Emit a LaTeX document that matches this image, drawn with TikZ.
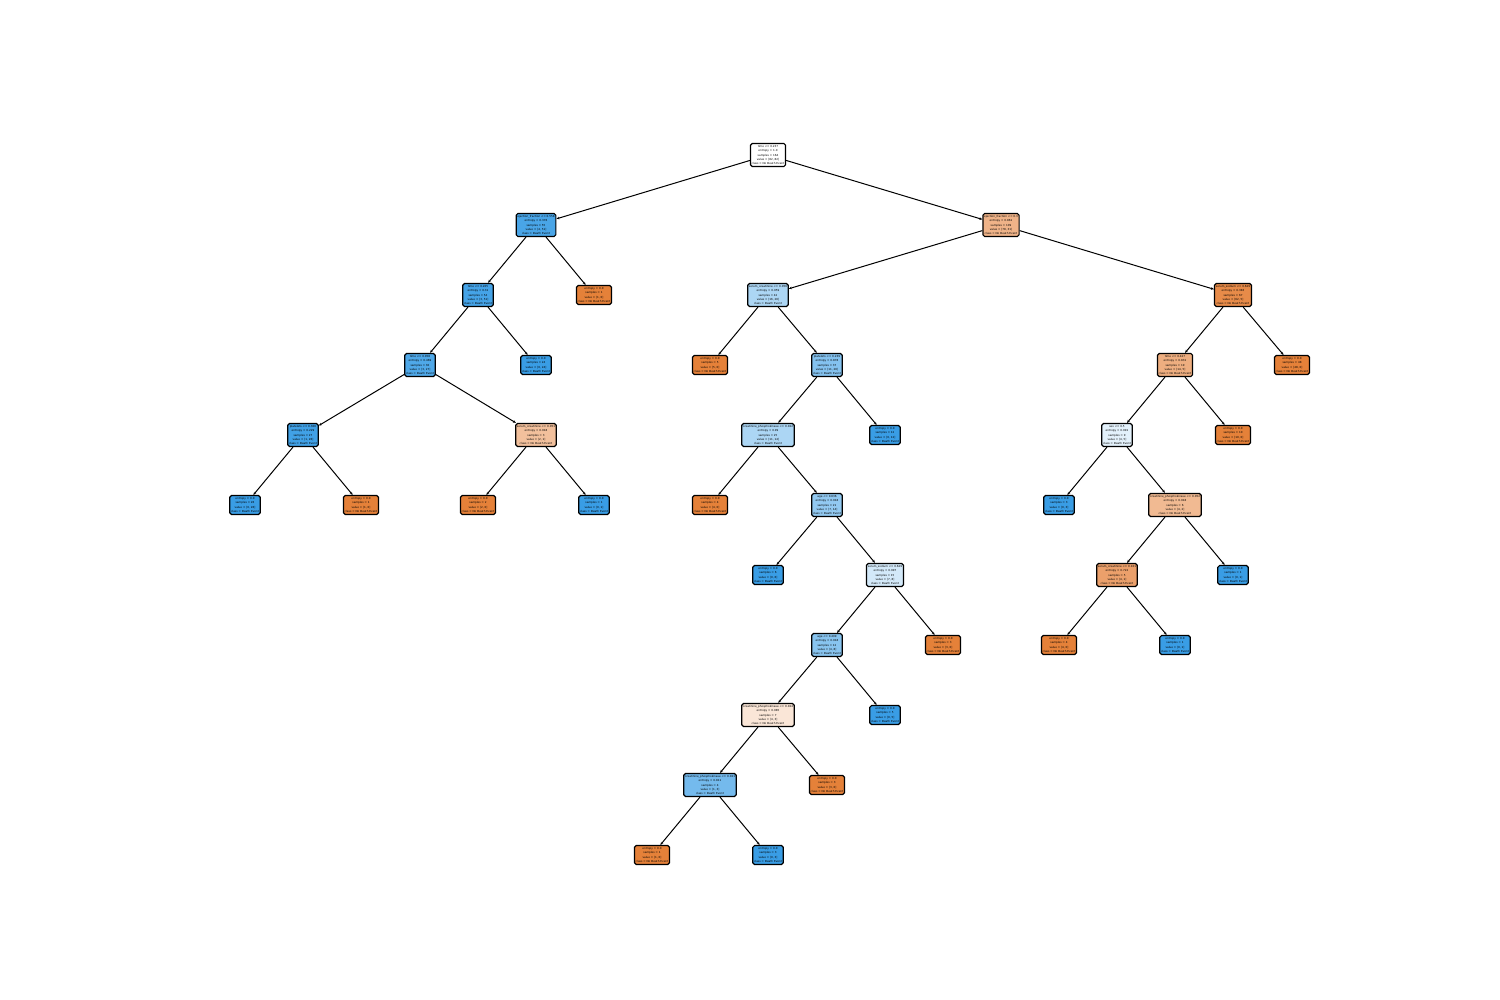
\documentclass[tikz,border=0pt]{standalone}
\usepackage{fontspec}
\newfontfamily\dvs{DejaVu Sans}
\usetikzlibrary{arrows.meta}
\definecolor{co}{RGB}{229,129,57}
\definecolor{cb}{RGB}{57,157,229}
\tikzset{
  tn/.style={draw=black, line width=1.2pt, rounded corners=1.8pt, align=center,
    font=\dvs\fontsize{2.75}{4.2}\selectfont, inner xsep=1.3pt, inner ysep=2.1pt},
  ed/.style={line width=1pt, -{Stealth[length=3pt,width=2.6pt]}}
}
\begin{document}
\begin{tikzpicture}[x=1pt,y=-1pt]
\useasboundingbox (0,0) rectangle (1500,1000);
% level 0-1
\node[tn, fill=white] (r) at (768,155) {time <= 0.237\\entropy = 1.0\\samples = 164\\value = [82, 82]\\class = No Death Event};
\node[tn, fill=cb!92!white] (a) at (536,225) {ejection\_fraction <= 0.558\\entropy = 0.376\\samples = 55\\value = [4, 51]\\class = Death Event};
\node[tn, fill=co!60!white] (b) at (1001,225) {ejection\_fraction <= 0.3\\entropy = 0.861\\samples = 109\\value = [78, 31]\\class = No Death Event};
% level 2
\node[tn, fill=cb!94!white] (a1) at (478,295) {time <= 0.205\\entropy = 0.31\\samples = 54\\value = [3, 51]\\class = Death Event};
\node[tn, fill=co] (a2) at (594,295) {entropy = 0.0\\samples = 1\\value = [1, 0]\\class = No Death Event};
\node[tn, fill=cb!42!white] (b1) at (768,295) {serum\_creatinine <= 0.056\\entropy = 0.959\\samples = 42\\value = [16, 26]\\class = Death Event};
\node[tn, fill=co!92!white] (b2) at (1233,295) {serum\_sodium <= 0.629\\entropy = 0.383\\samples = 67\\value = [62, 5]\\class = No Death Event};
% level 3
\node[tn, fill=cb!89!white] (a11) at (420,365) {time <= 0.058\\entropy = 0.469\\samples = 30\\value = [3, 27]\\class = Death Event};
\node[tn, fill=cb] (a12) at (536,365) {entropy = 0.0\\samples = 24\\value = [0, 24]\\class = Death Event};
\node[tn, fill=co] (b11) at (710,365) {entropy = 0.0\\samples = 5\\value = [5, 0]\\class = No Death Event};
\node[tn, fill=cb!62!white] (b12) at (827,365) {platelets <= 0.239\\entropy = 0.878\\samples = 37\\value = [11, 26]\\class = Death Event};
\node[tn, fill=co!64!white] (b21) at (1175,365) {time <= 0.427\\entropy = 0.831\\samples = 19\\value = [14, 5]\\class = No Death Event};
\node[tn, fill=co] (b22) at (1292,365) {entropy = 0.0\\samples = 48\\value = [48, 0]\\class = No Death Event};
% level 4
\node[tn, fill=cb!96!white] (a111) at (303,435) {platelets <= 0.306\\entropy = 0.229\\samples = 27\\value = [1, 26]\\class = Death Event};
\node[tn, fill=co!50!white] (a112) at (536,435) {serum\_creatinine <= 0.051\\entropy = 0.918\\samples = 3\\value = [2, 1]\\class = No Death Event};
\node[tn, fill=cb!42!white] (b121) at (768,435) {creatinine\_phosphokinase <= 0.022\\entropy = 0.99\\samples = 25\\value = [11, 14]\\class = Death Event};
\node[tn, fill=cb] (b122) at (885,435) {entropy = 0.0\\samples = 12\\value = [0, 12]\\class = Death Event};
\node[tn, fill=cb!14!white] (b211) at (1117,435) {sex <= 0.5\\entropy = 0.991\\samples = 9\\value = [4, 5]\\class = Death Event};
\node[tn, fill=co] (b212) at (1233,435) {entropy = 0.0\\samples = 10\\value = [10, 0]\\class = No Death Event};
% level 5
\node[tn, fill=cb] (a1111) at (245,505) {entropy = 0.0\\samples = 26\\value = [0, 26]\\class = Death Event};
\node[tn, fill=co] (a1112) at (361,505) {entropy = 0.0\\samples = 1\\value = [1, 0]\\class = No Death Event};
\node[tn, fill=co] (a1121) at (478,505) {entropy = 0.0\\samples = 2\\value = [2, 0]\\class = No Death Event};
\node[tn, fill=cb] (a1122) at (594,505) {entropy = 0.0\\samples = 1\\value = [0, 1]\\class = Death Event};
\node[tn, fill=co] (b1211) at (710,505) {entropy = 0.0\\samples = 4\\value = [4, 0]\\class = No Death Event};
\node[tn, fill=cb!55!white] (b1212) at (827,505) {age <= 0.636\\entropy = 0.918\\samples = 21\\value = [7, 14]\\class = Death Event};
\node[tn, fill=cb] (b2111) at (1059,505) {entropy = 0.0\\samples = 3\\value = [0, 3]\\class = Death Event};
\node[tn, fill=co!55!white] (b2112) at (1175,505) {creatinine\_phosphokinase <= 0.052\\entropy = 0.918\\samples = 6\\value = [4, 2]\\class = No Death Event};
% level 6
\node[tn, fill=cb] (b12121) at (768,575) {entropy = 0.0\\samples = 6\\value = [0, 6]\\class = Death Event};
\node[tn, fill=cb!22!white] (b12122) at (885,575) {serum\_sodium <= 0.629\\entropy = 0.997\\samples = 15\\value = [7, 8]\\class = Death Event};
\node[tn, fill=co!75!white] (b21121) at (1117,575) {serum\_creatinine <= 0.101\\entropy = 0.722\\samples = 5\\value = [4, 1]\\class = No Death Event};
\node[tn, fill=cb] (b21122) at (1233,575) {entropy = 0.0\\samples = 1\\value = [0, 1]\\class = Death Event};
% level 7
\node[tn, fill=cb!60!white] (c1) at (827,645) {age <= 0.409\\entropy = 0.918\\samples = 12\\value = [4, 8]\\class = Death Event};
\node[tn, fill=co] (c2) at (943,645) {entropy = 0.0\\samples = 3\\value = [3, 0]\\class = No Death Event};
\node[tn, fill=co] (d1) at (1059,645) {entropy = 0.0\\samples = 4\\value = [4, 0]\\class = No Death Event};
\node[tn, fill=cb] (d2) at (1175,645) {entropy = 0.0\\samples = 1\\value = [0, 1]\\class = Death Event};
% level 8
\node[tn, fill=co!20!white] (c11) at (768,715) {creatinine\_phosphokinase <= 0.024\\entropy = 0.985\\samples = 7\\value = [4, 3]\\class = No Death Event};
\node[tn, fill=cb] (c12) at (885,715) {entropy = 0.0\\samples = 5\\value = [0, 5]\\class = Death Event};
% level 9
\node[tn, fill=cb!70!white] (c111) at (710,785) {creatinine\_phosphokinase <= 0.021\\entropy = 0.811\\samples = 4\\value = [1, 3]\\class = Death Event};
\node[tn, fill=co] (c112) at (827,785) {entropy = 0.0\\samples = 3\\value = [3, 0]\\class = No Death Event};
% level 10
\node[tn, fill=co] (c1111) at (652,855) {entropy = 0.0\\samples = 1\\value = [1, 0]\\class = No Death Event};
\node[tn, fill=cb] (c1112) at (768,855) {entropy = 0.0\\samples = 3\\value = [0, 3]\\class = Death Event};
% edges
\draw[ed] (r) -- (a);
\draw[ed] (r) -- (b);
\draw[ed] (a) -- (a1);
\draw[ed] (a) -- (a2);
\draw[ed] (b) -- (b1);
\draw[ed] (b) -- (b2);
\draw[ed] (a1) -- (a11);
\draw[ed] (a1) -- (a12);
\draw[ed] (b1) -- (b11);
\draw[ed] (b1) -- (b12);
\draw[ed] (b2) -- (b21);
\draw[ed] (b2) -- (b22);
\draw[ed] (a11) -- (a111);
\draw[ed] (a11) -- (a112);
\draw[ed] (b12) -- (b121);
\draw[ed] (b12) -- (b122);
\draw[ed] (b21) -- (b211);
\draw[ed] (b21) -- (b212);
\draw[ed] (a111) -- (a1111);
\draw[ed] (a111) -- (a1112);
\draw[ed] (a112) -- (a1121);
\draw[ed] (a112) -- (a1122);
\draw[ed] (b121) -- (b1211);
\draw[ed] (b121) -- (b1212);
\draw[ed] (b211) -- (b2111);
\draw[ed] (b211) -- (b2112);
\draw[ed] (b1212) -- (b12121);
\draw[ed] (b1212) -- (b12122);
\draw[ed] (b2112) -- (b21121);
\draw[ed] (b2112) -- (b21122);
\draw[ed] (b12122) -- (c1);
\draw[ed] (b12122) -- (c2);
\draw[ed] (b21121) -- (d1);
\draw[ed] (b21121) -- (d2);
\draw[ed] (c1) -- (c11);
\draw[ed] (c1) -- (c12);
\draw[ed] (c11) -- (c111);
\draw[ed] (c11) -- (c112);
\draw[ed] (c111) -- (c1111);
\draw[ed] (c111) -- (c1112);
\end{tikzpicture}
\end{document}
